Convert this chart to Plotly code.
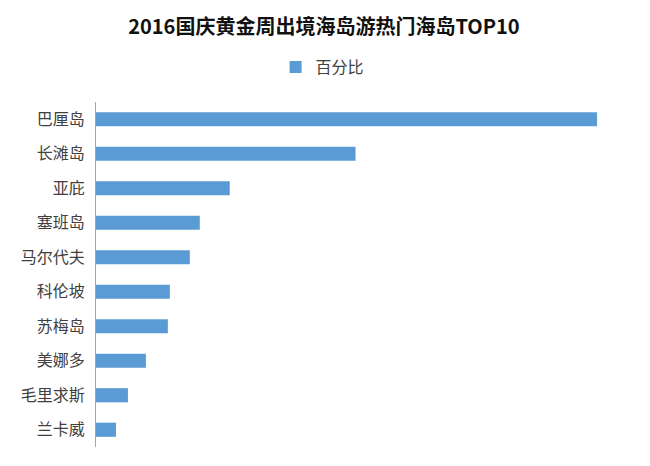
import plotly.graph_objects as go

# 热门海岛 (从上到下)
islands = ["巴厘岛", "长滩岛", "亚庇", "塞班岛", "马尔代夫",
           "科伦坡", "苏梅岛", "美娜多", "毛里求斯", "兰卡威"]
# 百分比 (估读)
share = [25.1, 13.0, 6.7, 5.2, 4.7, 3.7, 3.6, 2.5, 1.6, 1.0]

bar_color = "#5B9BD5"
font_cjk = "Noto Sans CJK SC"

fig = go.Figure()
fig.add_trace(go.Bar(x=share, y=islands, orientation="h",
                     name="百分比",
                     marker=dict(color=bar_color, line=dict(width=0)),
                     showlegend=True))

# page is drawn with an 8px body margin, so margins are pulled in to match
fig.update_layout(
    width=650, height=466,
    paper_bgcolor="white", plot_bgcolor="white",
    margin=dict(l=88, r=37, t=94, b=27),
    bargap=0.59,
    title=dict(text="<b>2016国庆黄金周出境海岛游热门海岛TOP10</b>",
               x=0.486, xref="container", xanchor="center",
               y=1 - 19 / 466, yref="container", yanchor="middle",
               font=dict(family=font_cjk, size=20, color="#111111")),
    legend=dict(orientation="h", xref="container", yref="container",
                x=0.484, xanchor="center", y=1 - 59 / 466, yanchor="middle",
                font=dict(family=font_cjk, size=16, color="#404040"),
                itemwidth=30),
    xaxis=dict(range=[0, 26.3], visible=False, showgrid=False,
               zeroline=False, automargin=False),
    yaxis=dict(autorange="reversed", showline=True, linecolor="#A6A6A6",
               linewidth=1, ticks="", showgrid=False, automargin=False,
               ticklabelstandoff=7,
               tickfont=dict(family=font_cjk, size=16, color="#404040")),
)

fig.write_html("out.html")
